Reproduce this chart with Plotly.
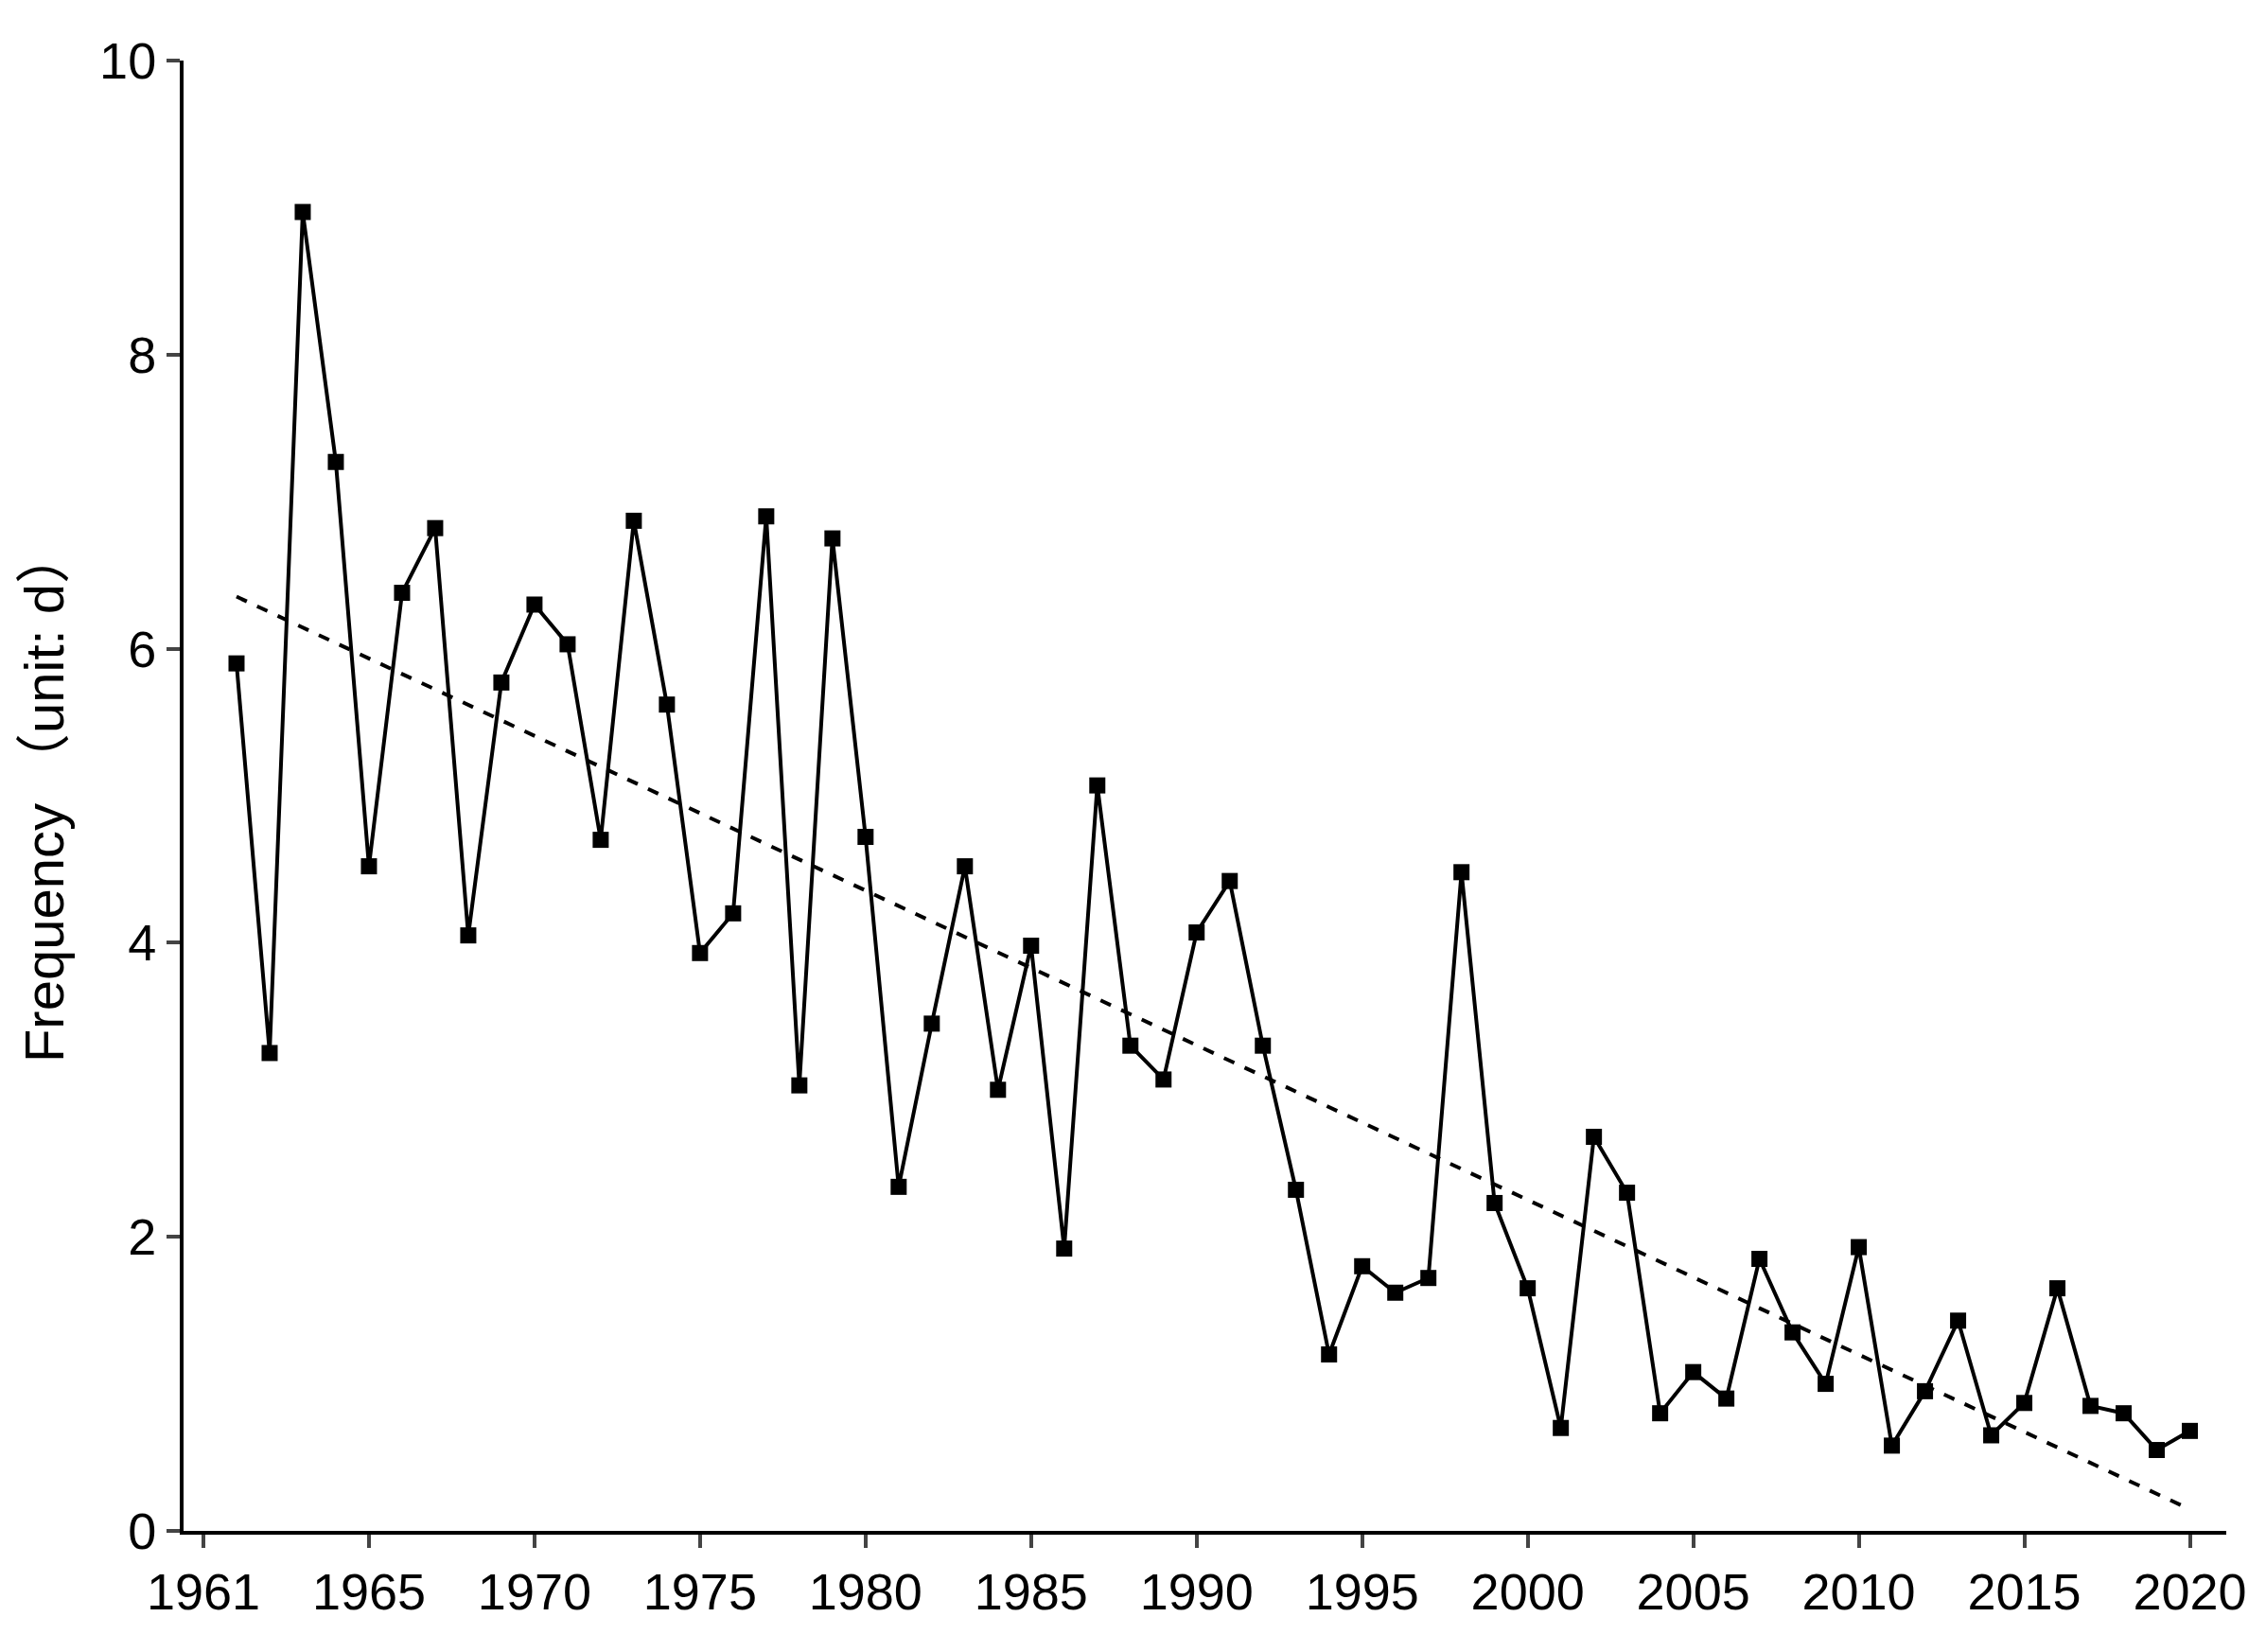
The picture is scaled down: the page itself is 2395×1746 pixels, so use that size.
import numpy as np
import plotly.graph_objects as go

years = list(range(1961, 2021))
freq = [5.9, 3.25, 8.97, 7.27, 4.52, 6.38, 6.82, 4.05, 5.77, 6.3,
        6.03, 4.7, 6.87, 5.62, 3.93, 4.2, 6.9, 3.03, 6.75, 4.72,
        2.34, 3.45, 4.52, 3.0, 3.98, 1.92, 5.07, 3.3, 3.07, 4.07,
        4.42, 3.3, 2.32, 1.2, 1.8, 1.62, 1.72, 4.48, 2.23, 1.65,
        0.7, 2.68, 2.3, 0.8, 1.08, 0.9, 1.85, 1.35, 1.0, 1.93,
        0.58, 0.95, 1.43, 0.65, 0.87, 1.65, 0.85, 0.8, 0.55, 0.68]
tick_vals = [1960, 1965, 1970, 1975, 1980, 1985, 1990, 1995, 2000, 2005, 2010, 2015, 2020]
tick_text = ["1961", "1965", "1970", "1975", "1980", "1985", "1990", "1995", "2000", "2005", "2010", "2015", "2020"]

k, b = np.polyfit(years, freq, 1)
trend = [k * y + b for y in years]

fig = go.Figure()
fig.add_trace(go.Scatter(x=years, y=trend, mode="lines",
                         line=dict(color="black", width=4, dash="dash")))
fig.add_trace(go.Scatter(x=years, y=freq, mode="lines+markers",
                         line=dict(color="black", width=4),
                         marker=dict(symbol="square", size=17, color="black")))
fnt = dict(family="Liberation Sans, Arial", size=54, color="black")
fig.update_layout(
    width=2395, height=1746, showlegend=False,
    plot_bgcolor="white", paper_bgcolor="white",
    margin=dict(l=186, r=50, t=56, b=136),
    font=fnt,
    xaxis=dict(range=[1959.4, 2021.1], tickvals=tick_vals, ticktext=tick_text,
               showgrid=False, zeroline=False, showline=True, linecolor="black",
               linewidth=4, ticks="outside", ticklen=14, tickwidth=4, tickfont=fnt),
    yaxis=dict(range=[0, 10], tickvals=[0, 2, 4, 6, 8, 10],
               showgrid=False, zeroline=False, showline=True, linecolor="black",
               linewidth=4, ticks="outside", ticklen=14, tickwidth=4, tickfont=fnt,
               title=dict(text="Frequency （unit: d）", font=dict(family="Liberation Sans, Noto Sans CJK SC", size=58), standoff=20)),
)
fig.write_html("out.html")
